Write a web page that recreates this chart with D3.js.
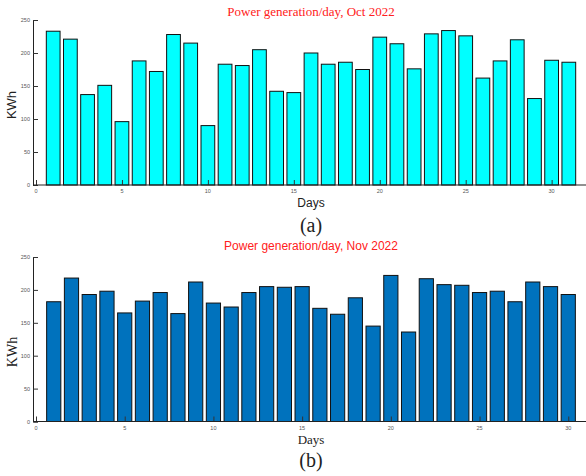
<!DOCTYPE html>
<html>
<head>
<meta charset="utf-8">
<script src="https://cdn.jsdelivr.net/npm/d3@7"></script>
<style>
  body { margin: 0; background: #fff; }
  svg { display: block; }
</style>
</head>
<body>
<div id="chart"></div>
<script>
// datos
const octDays = d3.range(1, 32);
const octKWh = [233, 221, 137, 151, 96, 188, 172, 228, 215, 90,
  183, 181, 205, 142, 140, 200, 183, 186, 175, 224,
  214, 176, 229, 234, 226, 162, 188, 220, 131, 189, 186];
const novDays = d3.range(1, 31);
const novKWh = [182, 218, 193, 198, 165, 183, 196, 164, 212, 180,
  174, 196, 205, 204, 205, 172, 163, 188, 145, 222,
  136, 217, 208, 207, 196, 198, 182, 212, 205, 193];
const yTicks = [0, 50, 100, 150, 200, 250];
const xTicks = [0, 5, 10, 15, 20, 25, 30];

const svg = d3.select('#chart')
  .append('svg')
  .attr('width', 586)
  .attr('height', 476);

function panel(opts) {
  const g = svg.append('g');

  const xScale = d3.scaleLinear()
    .domain(opts.xDomain)
    .range([36, 586]);

  const yScale = d3.scaleLinear()
    .domain([0, 250])
    .range([opts.y0, opts.y250]);

  // barras
  g.selectAll('.bar')
    .data(opts.days.map((d, i) => ({ day: d, v: opts.values[i] })))
    .enter().append('rect')
    .attr('class', 'bar')
    .attr('x', d => xScale(d.day - 0.4))
    .attr('y', d => yScale(d.v))
    .attr('width', xScale(0.8) - xScale(0))
    .attr('height', d => yScale(0) - yScale(d.v))
    .attr('fill', opts.color)
    .attr('stroke', '#111')
    .attr('stroke-width', 1);

  // eje Y, ticks hacia adentro
  const yAxis = g.append('g')
    .attr('transform', 'translate(33,0)')
    .call(d3.axisRight(yScale).tickValues(yTicks).tickSize(5).tickFormat(''));
  yAxis.select('.domain').attr('stroke', '#222');
  yAxis.selectAll('.tick line').attr('stroke', '#333');

  g.selectAll('.ylab')
    .data(yTicks)
    .enter().append('text')
    .attr('x', 30)
    .attr('y', d => yScale(d) + 2)
    .attr('text-anchor', 'end')
    .style('font-family', 'Liberation Sans, Arial, sans-serif')
    .style('font-size', '5.5px')
    .attr('fill', '#555')
    .text(d => d);

  // eje X, ticks hacia arriba
  const xAxis = g.append('g')
    .attr('transform', `translate(0,${opts.y0})`)
    .call(d3.axisTop(xScale).tickValues(xTicks).tickSize(5).tickFormat(''));
  xAxis.select('.domain').remove();
  xAxis.selectAll('.tick line').attr('stroke', '#333');
  g.append('line')
    .attr('x1', 33).attr('x2', 586)
    .attr('y1', opts.y0).attr('y2', opts.y0)
    .attr('stroke', '#222');

  g.selectAll('.xlab')
    .data(xTicks)
    .enter().append('text')
    .attr('x', d => xScale(d))
    .attr('y', opts.y0 + 8)
    .attr('text-anchor', 'middle')
    .style('font-family', 'Liberation Sans, Arial, sans-serif')
    .style('font-size', '5.5px')
    .attr('fill', '#555')
    .text(d => d);

  // titulo
  g.append('text')
    .attr('x', 311)
    .attr('y', opts.titleY)
    .attr('text-anchor', 'middle')
    .style('font-family', opts.titleFont)
    .style('font-size', opts.titleSize)
    .attr('fill', '#ff2020')
    .text(opts.title);

  // etiqueta eje Y
  g.append('text')
    .attr('transform', `translate(${opts.yLabX},${opts.yLabY}) rotate(-90)`)
    .attr('text-anchor', 'middle')
    .style('font-family', opts.yLabFont)
    .style('font-size', opts.yLabSize)
    .attr('fill', '#222')
    .text('KWh');

  // etiqueta eje X
  g.append('text')
    .attr('x', 311)
    .attr('y', opts.daysY)
    .attr('text-anchor', 'middle')
    .style('font-family', opts.daysFont)
    .style('font-size', opts.daysSize)
    .attr('fill', '#222')
    .text('Days');

  // subtitulo (a)/(b)
  g.append('text')
    .attr('x', 311)
    .attr('y', opts.capY)
    .attr('text-anchor', 'middle')
    .style('font-family', 'Liberation Serif, Times New Roman, serif')
    .style('font-size', '20px')
    .attr('fill', '#222')
    .text(opts.caption);
}

panel({
  days: octDays, values: octKWh, xDomain: [0, 32], color: '#00ffff',
  y0: 185, y250: 20,
  title: 'Power generation/day, Oct 2022', titleY: 16,
  titleFont: 'Liberation Serif, Times New Roman, serif', titleSize: '13px',
  yLabX: 16, yLabY: 105, yLabFont: 'Liberation Sans, Arial, sans-serif', yLabSize: '13px',
  daysY: 207, daysFont: 'Liberation Sans, Arial, sans-serif', daysSize: '12px',
  capY: 232, caption: '(a)'
});

panel({
  days: novDays, values: novKWh, xDomain: [0, 31], color: '#0072bd',
  y0: 421.5, y250: 257,
  title: 'Power generation/day, Nov 2022', titleY: 250,
  titleFont: 'Liberation Sans, Arial, sans-serif', titleSize: '12px',
  yLabX: 17, yLabY: 352, yLabFont: 'Liberation Serif, Times New Roman, serif', yLabSize: '14px',
  daysY: 444, daysFont: 'Liberation Serif, Times New Roman, serif', daysSize: '13px',
  capY: 467, caption: '(b)'
});
</script>
</body>
</html>
